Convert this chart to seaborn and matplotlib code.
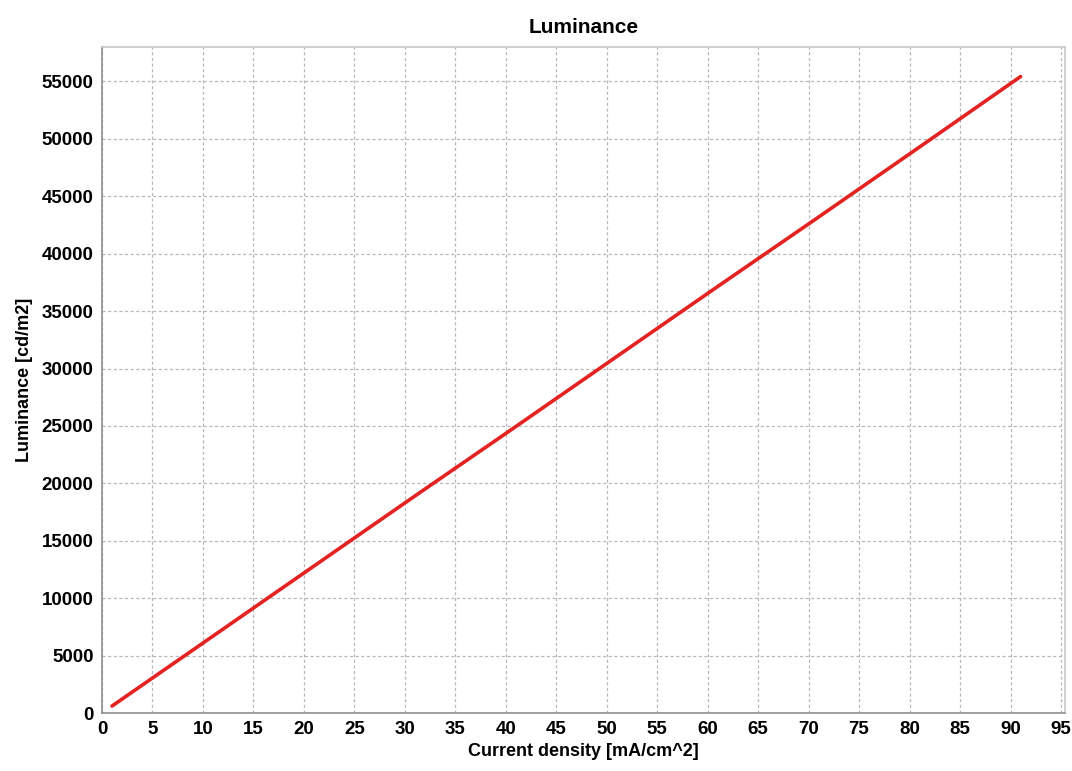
import numpy as np
import pandas as pd
import seaborn as sns
import matplotlib.pyplot as plt

# values
current_density = [1, 11, 21, 31, 41, 51, 61, 71, 81, 91]
luminance = [610, 6700, 12800, 18900, 24950, 31050, 37150, 43200, 49300, 55430]

xticks = list(range(0, 100, 5))
yticks = list(range(0, 60000, 5000))

sns.set_style("white")
plt.rcParams['font.family'] = ['Liberation Sans', 'DejaVu Sans']
plt.rcParams['font.weight'] = 'bold'
plt.rcParams['text.color'] = 'black'
plt.rcParams['axes.labelcolor'] = 'black'
plt.rcParams['xtick.labelcolor'] = 'black'
plt.rcParams['ytick.labelcolor'] = 'black'

Data = pd.DataFrame({'Current density': current_density, 'Luminance': luminance})

fig = plt.figure(figsize=(10.72, 7.71), dpi=100)
ax = fig.add_axes([0.0951, 0.0752, 0.8984, 0.8638])

sns.lineplot(x='Current density', y='Luminance', data=Data, ax=ax,
             color='#e32222', linewidth=2.6, zorder=3)

ax.set_xlim(0, 95.4)
ax.set_ylim(0, 58000)
ax.set_xticks(xticks)
ax.set_yticks(yticks)
ax.tick_params(labelsize=13.5, length=4, color='#909090', width=1, pad=2,
               labelcolor='black')
for lab in ax.get_xticklabels() + ax.get_yticklabels():
    lab.set_fontweight('bold')

ax.grid(True, linestyle=(0, (2.5, 2)), color='#b8b8b8', linewidth=0.9, zorder=0)

for side in ['top', 'right']:
    ax.spines[side].set_color('#c8c8c8')
for side in ['left', 'bottom']:
    ax.spines[side].set_color('#909090')
for sp in ax.spines.values():
    sp.set_linewidth(1.2)

ax.set_title('Luminance', fontsize=15, fontweight='bold', pad=10, color='black')
ax.set_xlabel('Current density [mA/cm^2]', fontsize=13, fontweight='bold', labelpad=3, color='black')
ax.set_ylabel('Luminance [cd/m2]', fontsize=13, fontweight='bold', labelpad=6, color='black')

plt.savefig("out.png", dpi=100)
